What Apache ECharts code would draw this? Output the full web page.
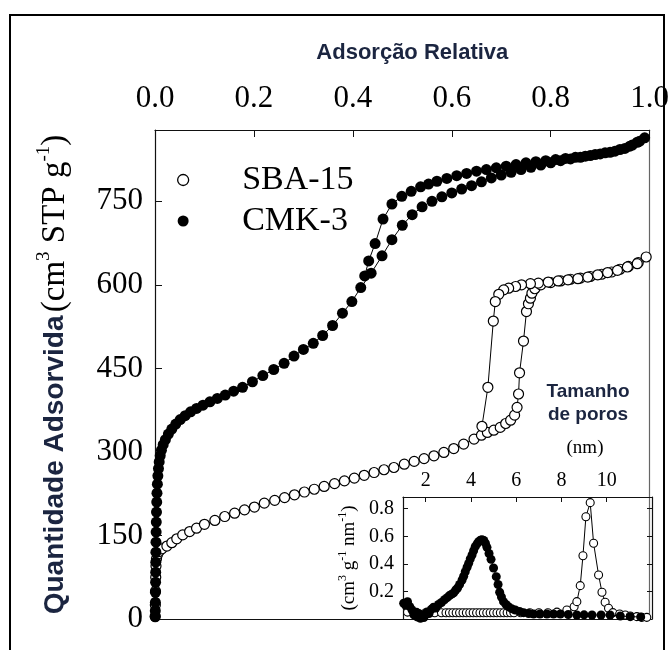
<!DOCTYPE html>
<html>
<head>
<meta charset="utf-8">
<script src="https://cdn.jsdelivr.net/npm/echarts@6/dist/echarts.min.js"></script>
<style>
  html, body { margin: 0; padding: 0; background: #fff; }
  #chart { width: 672px; height: 650px; }
</style>
</head>
<body>
<div id="chart"></div>
<script>
// N2 isotherms: relative pressure p/p0 against adsorbed volume (cm3 STP g-1)
const sba15Adsorption = [
  [0.0004,5],[0.0007,25],[0.001,50],[0.0015,75],[0.002,95],[0.003,108],[0.005,116],[0.008,121],
  [0.014,126],[0.024,131],[0.034,137],[0.044,144],[0.056,151],[0.07,157],[0.084,163],[0.1,170],
  [0.121,177],[0.141,184],[0.161,190],[0.181,196],[0.201,201],[0.221,208],[0.242,213],[0.262,218],
  [0.282,223],[0.302,228],[0.322,233],[0.342,238],[0.363,243],[0.383,248],[0.403,253],[0.423,258],
  [0.443,263],[0.463,268],[0.483,272],[0.504,278],[0.524,283],[0.544,288],[0.564,293],[0.584,299],
  [0.604,306],[0.624,314],[0.645,323],[0.66,330],[0.672,335],[0.685,339],[0.698,344],[0.709,351],
  [0.719,357],[0.727,366],[0.732,380],[0.735,404],[0.737,442],[0.745,499],[0.751,552],[0.755,566],
  [0.759,576],[0.762,585],[0.768,593],[0.78,600],[0.8,604],[0.82,607],[0.84,610],[0.86,612],
  [0.88,615],[0.903,619],[0.923,623],[0.94,628],[0.957,633],[0.977,640],[0.993,650]
];
const sba15Desorption = [
  [0.975,638],[0.955,632],[0.935,626],[0.915,622],[0.895,618],[0.875,614],[0.855,611],[0.835,609],
  [0.815,607],[0.795,605],[0.775,603],[0.759,602],[0.741,600],[0.729,597],[0.715,594],[0.705,591],
  [0.695,583],[0.688,570],[0.684,535],[0.673,416],[0.661,346]
];
const cmk3Adsorption = [
  [0.0004,4],[0.0006,15],[0.0008,30],[0.001,48],[0.0012,66],[0.0014,84],[0.0016,102],[0.0018,120],
  [0.002,138],[0.0023,156],[0.0026,174],[0.003,192],[0.0035,210],[0.004,226],[0.0048,242],[0.0058,257],
  [0.007,270],[0.0085,282],[0.0105,293],[0.013,303],[0.0165,313],[0.021,322],[0.027,332],[0.034,341],
  [0.042,350],[0.051,358],[0.061,365],[0.072,372],[0.084,378],[0.097,384],[0.111,390],[0.126,396],
  [0.142,402],[0.159,409],[0.177,416],[0.197,426],[0.218,437],[0.24,448],[0.261,459],[0.281,472],
  [0.3,484],[0.32,495],[0.339,509],[0.359,527],[0.379,549],[0.398,570],[0.416,595],[0.437,621],
  [0.459,652],[0.479,681],[0.5,707],[0.52,726],[0.54,740],[0.56,750],[0.58,758],[0.6,765],
  [0.62,772],[0.64,778],[0.66,785],[0.68,792],[0.7,797],[0.72,802],[0.74,807],[0.76,811],
  [0.78,815],[0.8,819],[0.82,823],[0.84,826],[0.86,829],[0.88,832],[0.9,835],[0.92,838],
  [0.94,843],[0.96,849],[0.975,856],[0.99,864]
];
const cmk3Desorption = [
  [0.98,858],[0.965,851],[0.95,845],[0.93,840],[0.91,837],[0.89,834],[0.87,831],[0.85,829],
  [0.83,827],[0.81,825],[0.79,823],[0.77,821],[0.75,819],[0.73,816],[0.71,813],[0.69,810],
  [0.67,807],[0.65,804],[0.63,800],[0.61,796],[0.59,791],[0.57,786],[0.553,781],[0.537,776],
  [0.518,768],[0.499,759],[0.479,745],[0.461,718],[0.445,674],[0.432,643],[0.424,616]
];

// Pore size distributions: diameter (nm) against dV/dD (cm3 g-1 nm-1)
const sba15Pores = [
  [1.2,0.05],[1.6,0.048],[2.0,0.045],[2.4,0.045],[2.7,0.045],[2.9,0.045],[3.05,0.045],[3.2,0.045],
  [3.35,0.045],[3.5,0.045],[3.65,0.045],[3.8,0.045],[3.95,0.045],[4.1,0.045],[4.25,0.045],[4.4,0.045],
  [4.55,0.045],[4.7,0.045],[4.85,0.045],[5.0,0.045],[5.15,0.045],[5.3,0.045],[5.45,0.045],[5.6,0.045],
  [5.75,0.045],[5.9,0.045],[6.2,0.045],[6.6,0.045],[7.0,0.045],[7.4,0.045],[7.8,0.05],[8.24,0.065],
  [8.56,0.089],[8.68,0.126],[8.83,0.242],[8.95,0.459],[9.08,0.742],[9.27,0.844],[9.42,0.549],[9.64,0.319],
  [9.79,0.194],[9.93,0.121],[10.08,0.078],[10.27,0.046],[10.57,0.036],[10.82,0.029],[11.04,0.022],
  [11.33,0.017],[11.55,0.012],[11.77,0.012]
];
const cmk3Pores = [
  [1.03,0.114],[1.12,0.1],[1.2,0.126],[1.3,0.09],[1.4,0.065],[1.48,0.03],[1.55,0.045],[1.62,0.015],
  [1.7,0.04],[1.77,0.005],[1.85,0.025],[1.92,0.01],[1.99,0.03],[2.06,0.05],[2.15,0.04],[2.25,0.07],
  [2.35,0.085],[2.45,0.08],[2.57,0.105],[2.7,0.12],[2.83,0.14],[2.95,0.155],[3.05,0.17],[3.15,0.18],
  [3.24,0.19],[3.33,0.21],[3.41,0.225],[3.5,0.25],[3.61,0.283],[3.68,0.31],[3.75,0.343],[3.83,0.375],
  [3.9,0.404],[3.97,0.435],[4.05,0.464],[4.12,0.495],[4.19,0.525],[4.27,0.545],[4.34,0.561],[4.42,0.572],
  [4.49,0.575],[4.57,0.57],[4.64,0.55],[4.71,0.52],[4.8,0.475],[4.89,0.433],[5.0,0.37],[5.12,0.307],
  [5.2,0.25],[5.27,0.194],[5.35,0.16],[5.44,0.126],[5.55,0.105],[5.66,0.089],[5.8,0.075],[5.96,0.065],
  [6.15,0.055],[6.33,0.046],[6.55,0.04],[6.77,0.036],[7.05,0.036],[7.36,0.036],[7.65,0.036],[7.95,0.036],
  [8.3,0.033],[8.68,0.029],[9.0,0.03],[9.35,0.029],[9.75,0.029],[10.15,0.029],[10.6,0.022],[11.04,0.017],
  [11.5,0.015]
];

const poreTicks = [2, 4, 6, 8, 10];
const materialNames = ['SBA-15', 'CMK-3'];

const SERIF = '"Liberation Serif", "Times New Roman", serif';
const SANS = '"Liberation Sans", Arial, sans-serif';
const NAVY = '#1b2540';
const INK = '#111';

const chart = echarts.init(document.getElementById('chart'), null, { renderer: 'canvas' });

const frameLine = { show: true, onZero: false, lineStyle: { color: INK, width: 1.2 } };

const option = {
  animation: false,
  backgroundColor: '#fff',
  grid: [
    { left: 155, right: 20, top: 130, bottom: 31 },
    { left: 403, right: 20, top: 497, bottom: 31, show: true, backgroundColor: '#fff', borderWidth: 0 }
  ],
  legend: {
    orient: 'vertical',
    left: 172,
    top: 157,
    itemWidth: 108,
    itemHeight: 11,
    itemGap: 5,
    icon: 'circle',
    selectedMode: false,
    textStyle: { fontFamily: SERIF, fontSize: 34, color: '#000', lineHeight: 36 },
    data: [
      { name: materialNames[0], itemStyle: { color: '#fff', borderColor: '#000', borderWidth: 1.3 } },
      { name: materialNames[1], itemStyle: { color: '#000', borderWidth: 0 } }
    ]
  },
  xAxis: [
    {
      gridIndex: 0, type: 'value', position: 'top', min: 0, max: 1, interval: 0.2,
      axisLine: frameLine,
      axisTick: { inside: true, length: 7, lineStyle: { color: INK } },
      axisLabel: { fontFamily: SERIF, fontSize: 31, color: '#000', margin: 16, formatter: v => v.toFixed(1) },
      splitLine: { show: false },
      name: 'Adsorção Relativa', nameLocation: 'middle', nameGap: 66,
      nameTextStyle: { fontFamily: SANS, fontWeight: 'bold', fontSize: 22, color: NAVY, padding: [0, 0, 0, 20] }
    },
    {
      gridIndex: 0, type: 'value', position: 'bottom', min: 0, max: 1,
      axisLine: frameLine, axisTick: { show: false }, axisLabel: { show: false }, splitLine: { show: false }
    },
    {
      gridIndex: 1, type: 'value', position: 'top', min: 1, max: 12,
      axisLine: frameLine,
      axisTick: { inside: true, length: 5, customValues: poreTicks, lineStyle: { color: INK } },
      axisLabel: { customValues: poreTicks, fontFamily: SERIF, fontSize: 20, color: '#000', margin: 6 },
      splitLine: { show: false }
    },
    {
      gridIndex: 1, type: 'value', position: 'bottom', min: 1, max: 12,
      axisLine: frameLine, axisTick: { show: false }, axisLabel: { show: false }, splitLine: { show: false }
    }
  ],
  yAxis: [
    {
      gridIndex: 0, type: 'value', position: 'left', min: 0, max: 878, interval: 150,
      axisLine: frameLine,
      axisTick: { inside: true, length: 7, lineStyle: { color: INK } },
      axisLabel: { fontFamily: SERIF, fontSize: 31, color: '#000', margin: 12, showMaxLabel: false },
      splitLine: { show: false },
      name: '{s|Quantidade Adsorvida} {t|(cm}{u|3}{t| STP g}{u|-1}{t|)}',
      nameLocation: 'middle', nameRotate: 90, nameGap: 80,
      nameTextStyle: {
        rich: {
          s: { fontFamily: SANS, fontWeight: 'bold', fontSize: 28, color: NAVY, lineHeight: 40 },
          t: { fontFamily: SERIF, fontSize: 33, color: '#000', lineHeight: 40 },
          u: { fontFamily: SERIF, fontSize: 19, color: '#000', lineHeight: 20, verticalAlign: 'top' }
        }
      }
    },
    {
      gridIndex: 0, type: 'value', position: 'right', min: 0, max: 878,
      axisLine: { show: true, onZero: false, lineStyle: { color: '#666', width: 1.2 } },
      axisTick: { show: false }, axisLabel: { show: false }, splitLine: { show: false }
    },
    {
      gridIndex: 1, type: 'value', position: 'left', min: 0, max: 0.885, interval: 0.2,
      axisLine: frameLine,
      axisTick: { inside: true, length: 5, lineStyle: { color: INK } },
      axisLabel: {
        fontFamily: SERIF, fontSize: 20, color: '#000', margin: 9,
        showMinLabel: false, showMaxLabel: false, formatter: v => v.toFixed(1)
      },
      splitLine: { show: false },
      name: '{t|(cm}{u|3}{t| g}{u|-1}{t| nm}{u|-1}{t|)}',
      nameLocation: 'middle', nameRotate: 90, nameGap: 42,
      nameTextStyle: {
        rich: {
          t: { fontFamily: SERIF, fontSize: 19, color: '#000', lineHeight: 24 },
          u: { fontFamily: SERIF, fontSize: 12, color: '#000', lineHeight: 12, verticalAlign: 'top' }
        }
      }
    },
    {
      gridIndex: 1, type: 'value', position: 'right', min: 0, max: 0.885, interval: 0.2,
      axisLine: frameLine,
      axisTick: { inside: true, length: 5, lineStyle: { color: INK } },
      axisLabel: { show: false }, splitLine: { show: false }
    }
  ],
  series: [
    {
      name: materialNames[0], type: 'line', xAxisIndex: 0, yAxisIndex: 0,
      data: sba15Adsorption.concat(sba15Desorption),
      symbol: 'circle', symbolSize: 10, showAllSymbol: true, silent: true, z: 3,
      itemStyle: { color: '#fff', borderColor: '#000', borderWidth: 1.2 },
      lineStyle: { color: '#000', width: 1 }
    },
    {
      name: materialNames[1], type: 'line', xAxisIndex: 0, yAxisIndex: 0,
      data: cmk3Adsorption.concat(cmk3Desorption),
      symbol: 'circle', symbolSize: 11, showAllSymbol: true, silent: true, z: 3,
      itemStyle: { color: '#000' },
      lineStyle: { color: '#000', width: 1 }
    },
    {
      name: materialNames[0], type: 'line', xAxisIndex: 2, yAxisIndex: 2,
      data: sba15Pores,
      symbol: 'circle', symbolSize: 8, showAllSymbol: true, silent: true, z: 4,
      itemStyle: { color: '#fff', borderColor: '#000', borderWidth: 1.1 },
      lineStyle: { color: '#000', width: 1 }
    },
    {
      name: materialNames[1], type: 'line', xAxisIndex: 2, yAxisIndex: 2,
      data: cmk3Pores,
      symbol: 'circle', symbolSize: 9, showAllSymbol: true, silent: true, z: 5,
      itemStyle: { color: '#000' },
      lineStyle: { color: '#000', width: 1 }
    }
  ],
  graphic: [
    {
      type: 'rect', silent: true, z: 100,
      shape: { x: 10, y: 15, width: 654, height: 660 },
      style: { fill: 'none', stroke: '#000', lineWidth: 2 }
    },
    {
      type: 'text', silent: true, x: 588, y: 403,
      style: {
        text: 'Tamanho\nde poros', fontFamily: SANS, fontWeight: 'bold', fontSize: 19,
        lineHeight: 23, fill: NAVY, align: 'center', verticalAlign: 'middle'
      }
    },
    {
      type: 'text', silent: true, x: 585, y: 448,
      style: {
        text: '(nm)', fontFamily: SERIF, fontSize: 19, fill: '#000',
        align: 'center', verticalAlign: 'middle'
      }
    }
  ]
};

chart.setOption(option);
</script>
</body>
</html>
